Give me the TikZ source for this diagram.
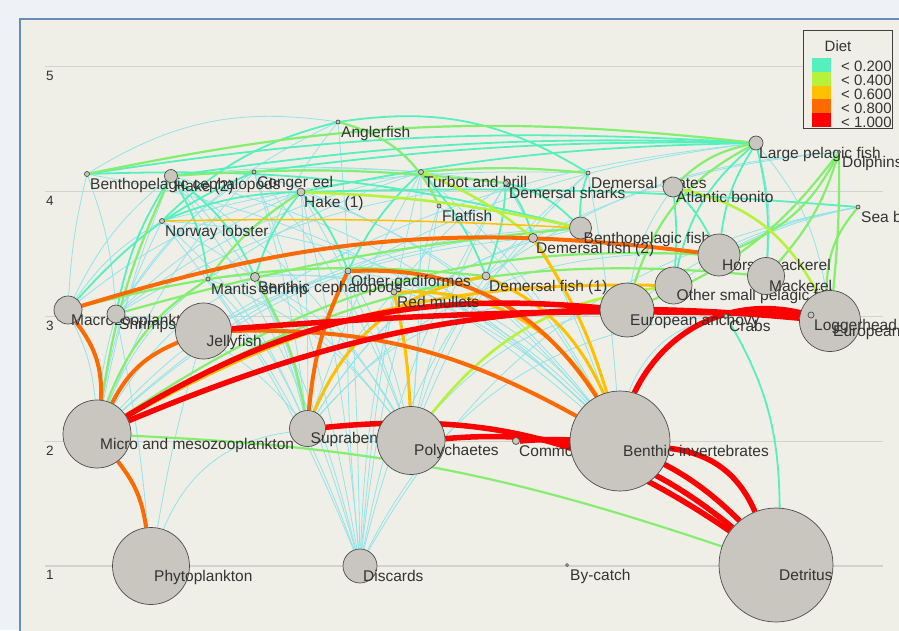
\documentclass[tikz,border=0pt]{standalone}
\usepackage{fontspec}
\setmainfont{Liberation Sans}
\pgfdeclarelayer{bg}
\pgfdeclarelayer{links}
\pgfsetlayers{bg,links,main}

\definecolor{outbg}{HTML}{EEF1F6}
\definecolor{panel}{HTML}{F0EFE7}
\definecolor{frameblue}{HTML}{6A8BBE}
\definecolor{gridc}{HTML}{D3D2CB}
\definecolor{nodegrey}{HTML}{C8C6BF}
\definecolor{txtc}{HTML}{333333}
\definecolor{dietA}{HTML}{55F0BE}
\definecolor{dietB}{HTML}{B6F23C}
\definecolor{dietC}{HTML}{FFC000}
\definecolor{dietD}{HTML}{FF6A00}
\definecolor{dietE}{HTML}{FF0000}
\definecolor{weak}{HTML}{92E3EA}
\definecolor{lgreen}{HTML}{84EE6E}

\tikzset{
  grp/.style={circle, draw=black!70, fill=nodegrey, line width=0.7pt, inner sep=0pt},
  lbl/.style={anchor=base west, inner sep=0pt, text=txtc, font=\fontsize{15.5}{16}\selectfont},
  lc/.style={draw=weak, line width=0.8pt},
  tq/.style={draw=dietA, line width=1.8pt},
  gn/.style={draw=lgreen, line width=2.2pt},
  yg/.style={draw=dietB, line width=2.6pt},
  yl/.style={draw=dietC, line width=3pt},
  og/.style={draw=dietD, line width=4pt},
  rd/.style={draw=dietE, line width=5.5pt},
}
% group: name, x, y, diameter, text
\newcommand{\grp}[5]{%
  \node[grp, minimum size=#4pt] (#1) at (#2,#3) {};
  \node[lbl] (#1-t) at (#2+3,#3+15) {#5};}

\begin{document}
\begin{tikzpicture}[x=1pt, y=-1pt]
\useasboundingbox (0,0) rectangle (899,630);
\clip (0,0) rectangle (899,630);

\begin{pgfonlayer}{bg}
  \fill[outbg] (0,0) rectangle (899,630);
  \filldraw[fill=panel, draw=frameblue, line width=1.8pt] (20,19) rectangle (920,650);
  \foreach \v [count=\i from 0] in {5,4,3,2,1} {
    \draw[gridc, line width=1.2pt] (45,66.7+124.8*\i) -- (883,66.7+124.8*\i);
    \node[font=\fontsize{13.5}{14}\selectfont, text=txtc] (ax\v) at (50,76+124.8*\i) {\v};
  }
\end{pgfonlayer}

% groups
\grp{bpceph}{87}{174}{5}{Benthopelagic cephalopods}
\grp{lobster}{162}{221}{5}{Norway lobster}
\grp{hake2}{171}{176}{13}{Hake (2)}
\grp{conger}{254}{172}{4}{Conger eel}
\grp{macro}{68}{310}{28}{Macrozooplankton}
\grp{micro}{97}{434}{68}{Micro and mesozooplankton}
\grp{phyto}{151}{566}{77}{Phytoplankton}
\grp{shrimps}{116}{314}{18}{Shrimps}
\grp{jelly}{203.5}{331}{56}{Jellyfish}
\grp{mantis}{208}{279}{4}{Mantis shrimp}
\grp{bceph}{255}{277}{9}{Benthic cephalopods}
\grp{hake1}{301}{192}{8}{Hake (1)}
\grp{angler}{338}{122}{4}{Anglerfish}
\grp{ogad}{348}{271}{6}{Other gadiformes}
\grp{discards}{360}{566}{34}{Discards}
\grp{supra}{307.5}{428.5}{36}{Suprabenthos}
\grp{mullets}{394}{292}{6}{Red mullets}
\grp{turbot}{421}{172}{5}{Turbot and brill}
\grp{flatfish}{439}{206}{4}{Flatfish}
\grp{poly}{411}{440.5}{68}{Polychaetes}
\grp{dfish1}{486}{276}{8}{Demersal fish (1)}
\grp{dsharks}{506}{183}{5}{Demersal sharks}
\grp{octopus}{516}{441}{7}{Common octopus}
\grp{dfish2}{533}{238}{9}{Demersal fish (2)}
\grp{bycatch}{567}{565}{3}{By-catch}
\grp{bpfish}{580.5}{228}{22}{Benthopelagic fish}
\grp{dskates}{588}{173}{4}{Demersal skates}
\grp{benthinv}{620}{441}{100}{Benthic invertebrates}
\grp{anchovy}{627}{310}{54}{European anchovy}
\grp{ospel}{673.5}{285.5}{37}{Other small pelagic fish}
\grp{bonito}{673}{187}{20}{Atlantic bonito}
\grp{hmack}{719}{255}{42}{Horse mackerel}
\grp{crabs}{726}{316}{4}{Crabs}
\grp{lpfish}{756}{143}{14}{Large pelagic fish}
\grp{mack}{766}{276}{37}{Mackerel}
\grp{detritus}{776}{565}{114}{Detritus}
\grp{pilchard}{830}{321}{61}{European pilchard}
\grp{dolphins}{839}{152}{3}{Dolphins}
\grp{seabirds}{858}{207}{4}{Sea birds}
\grp{logger}{811}{315}{6}{Loggerhead turtle}

% diet links, prey/predator/bend
\begin{pgfonlayer}{links}
\foreach \a/\b/\c in {discards/hake2/-10, discards/lobster/-8, discards/bceph/-6, discards/mantis/-8,
  discards/conger/-5, discards/hake1/-4, discards/angler/-2, discards/ogad/3, discards/mullets/5,
  discards/turbot/4, discards/flatfish/6, discards/dfish1/10, discards/dsharks/10, discards/crabs/30,
  discards/seabirds/25,
  micro/macro/-10, micro/shrimps/5, micro/mantis/15, micro/bceph/15, micro/lobster/8, micro/hake2/5,
  micro/conger/10, micro/ogad/15, micro/dfish2/18, micro/bpfish/20,
  supra/hake2/-15, supra/lobster/-12, supra/mantis/-10, supra/bceph/-8, supra/shrimps/-20,
  supra/conger/-5, supra/hake1/-2, supra/mullets/8, supra/dfish2/18, supra/bpfish/22, supra/hmack/25,
  supra/anchovy/28, supra/turbot/5,
  poly/hake1/-5, poly/conger/-10, poly/bceph/-15, poly/mantis/-15, poly/lobster/-12, poly/ogad/-8,
  poly/dfish2/15, poly/flatfish/3, poly/turbot/-2, poly/dsharks/8, poly/dskates/12, poly/crabs/30,
  poly/hake2/-12,
  benthinv/bceph/-25, benthinv/mantis/-25, benthinv/lobster/-20, benthinv/hake1/-15, benthinv/conger/-15,
  benthinv/flatfish/-10, benthinv/turbot/-10, benthinv/dsharks/-5, benthinv/dskates/-3, benthinv/crabs/30,
  benthinv/ogad/-20, benthinv/hake2/-15, benthinv/bpceph/-15,
  phyto/jelly/3, phyto/shrimps/-3, phyto/supra/30,
  macro/hake2/12, macro/bpceph/5, macro/lobster/12, macro/hake1/12, shrimps/conger/12, shrimps/angler/15,
  shrimps/turbot/12, shrimps/hake1/10, shrimps/dsharks/12, shrimps/bpceph/-8, jelly/lpfish/12, jelly/bpfish/10,
  bpceph/angler/20, hake2/turbot/5, conger/dsharks/6, lobster/dskates/8, bceph/angler/10, mantis/turbot/8,
  mullets/dsharks/8, ogad/lpfish/10, dfish1/dskates/5, dfish2/dolphins/10, anchovy/seabirds/12,
  ospel/seabirds/10, hmack/seabirds/8, crabs/logger/0, pilchard/lpfish/-15, mack/lpfish/-10,
  anchovy/bonito/12, dfish1/dolphins/15}
  \draw[lc] (\a) to[bend left=\c] (\b);
\foreach \a/\b/\c in {bpceph/lpfish/6, hake2/lpfish/5, conger/lpfish/4, hake1/lpfish/5, dskates/angler/-20,
  bceph/hake2/-15, mantis/hake2/-12, lobster/hake1/10, lobster/angler/15, bceph/hake1/10, dfish2/dsharks/-10,
  bpfish/dsharks/-15, bpfish/dskates/10, ospel/lpfish/18, hmack/lpfish/12, mack/lpfish/-8, ospel/bonito/-5,
  hmack/bonito/-8, hake1/seabirds/3, dfish1/dsharks/-8, detritus/crabs/-15, shrimps/hake2/10, macro/conger/12,
  ogad/hake1/-10, ogad/turbot/10, dfish1/turbot/-10, bpfish/bpceph/-8}
  \draw[tq] (\a) to[bend left=\c] (\b);
\foreach \a/\b/\c in {micro/hake2/8, micro/mantis/18, micro/hmack/18, micro/mack/18, supra/bceph/-10,
  macro/dfish1/10, bpceph/lpfish/9, flatfish/angler/-25, bonito/lpfish/15, anchovy/lpfish/22,
  hmack/dolphins/-20, anchovy/dolphins/-15, mack/dolphins/-12, pilchard/dolphins/-3, pilchard/seabirds/20,
  shrimps/bpfish/5, micro/detritus/8, mantis/hake1/10, hake2/dsharks/5, turbot/dskates/5}
  \draw[gn] (\a) to[bend left=\c] (\b);
\foreach \a/\b/\c in {pilchard/bonito/-25, poly/ospel/22, bpfish/hake1/-5, dfish2/turbot/-8}
  \draw[yg] (\a) to[bend left=\c] (\b);
\foreach \a/\b/\c in {poly/mullets/-5, supra/dfish1/28, benthinv/mullets/-30, benthinv/dfish1/-20,
  benthinv/dfish2/-8, micro/ospel/15}
  \draw[yl] (\a) to[bend left=\c] (\b);
\draw[yl, line width=1.5pt] (lobster) to[bend left=2] (bpfish);
\foreach \a/\b/\c in {micro/macro/-20, micro/jelly/20, macro/hmack/12, jelly/benthinv/15, supra/ogad/10,
  phyto/micro/-15, benthinv/ogad/-30}
  \draw[og] (\a) to[bend left=\c] (\b);
\foreach \a/\b/\c in {micro/anchovy/18, micro/pilchard/14, jelly/logger/3, benthinv/logger/40,
  detritus/supra/-20, detritus/poly/-22, detritus/octopus/-25, detritus/benthinv/-30}
  \draw[rd] (\a) to[bend left=\c] (\b);
\end{pgfonlayer}

% legend
\node[draw=black!75, line width=1pt, fill=panel, minimum width=89pt, minimum height=98pt,
  anchor=north west, inner sep=0pt] (legend) at (803,30) {};
\node[font=\fontsize{15}{16}\selectfont, text=txtc] (legtitle) at (838,46) {Diet};
\foreach \c/\t [count=\k from 0] in {dietA/0.200, dietB/0.400, dietC/0.600, dietD/0.800, dietE/1.000} {
  \fill[\c] (812,58+13.8*\k) rectangle (831,71.8+13.8*\k);
  \node[anchor=west, inner sep=0pt, font=\fontsize{15}{15}\selectfont, text=txtc] (leg\k) at (841,66+14*\k) {< \t};
}
\end{tikzpicture}
\end{document}
